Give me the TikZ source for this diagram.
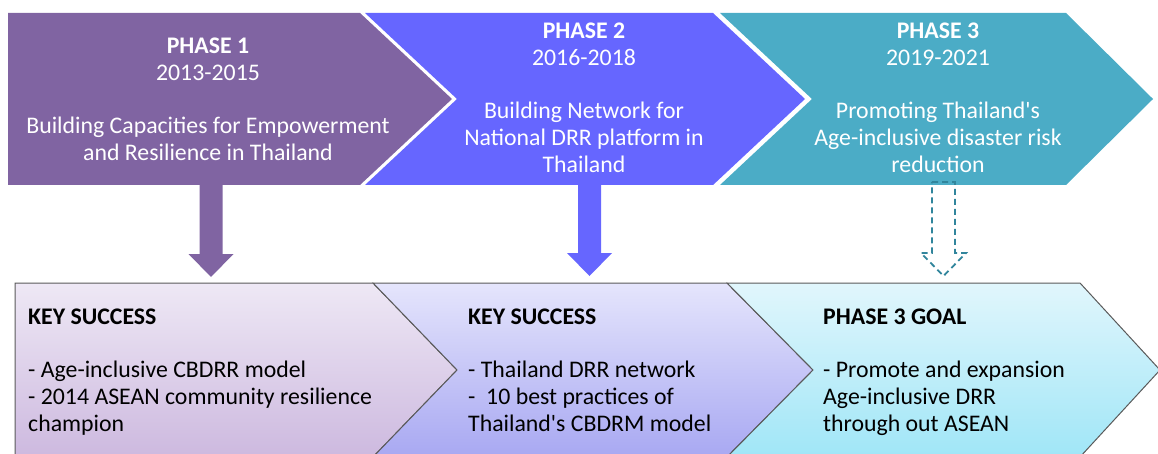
\documentclass[tikz,border=0pt]{standalone}
\usepackage{fontspec}
\setmainfont{Carlito}
\usetikzlibrary{calc}

\definecolor{phaseone}{HTML}{8064A2}
\definecolor{phasetwo}{HTML}{6666FF}
\definecolor{phasethree}{HTML}{4BACC6}
\definecolor{goalline}{HTML}{31859C}
\definecolor{keyline}{HTML}{5A5A5A}
\definecolor{keyonetop}{HTML}{EEE8F5}
\definecolor{keyonebot}{HTML}{CDB9DF}
\definecolor{keytwotop}{HTML}{E5E5FC}
\definecolor{keytwobot}{HTML}{A8A8F2}
\definecolor{keythreetop}{HTML}{E1F6FC}
\definecolor{keythreebot}{HTML}{A0E6F7}

% down arrow body: #1 = start (bottom of phase), #2 = tip
\newcommand{\downarrowpath}[2]{
  ($(#1)+(-11.5,0)$) -- ($(#1)+(11.5,0)$) -- ($(#2)+(11.5,-23)$) --
  ($(#2)+(22.5,-23)$) -- (#2) -- ($(#2)+(-22.5,-23)$) --
  ($(#2)+(-11.5,-23)$) -- cycle
}

\begin{document}
\begin{tikzpicture}[x=1pt, y=-1pt, font=\fontsize{23.8}{27}\selectfont,
    phasetext/.style={text=white, align=center, inner sep=0pt},
    keytext/.style={align=left, anchor=north west, inner sep=0pt},
    keybox/.style={draw=keyline, line width=1pt}]
    \useasboundingbox (0,0) rectangle (1158,454);
    \clip (0,0) rectangle (1158,454);

    % phases
    \fill[phaseone] (8,13) -- (360,13) -- (452,99) -- (360,185) -- (8,185) -- cycle;
    \fill[phasetwo] (365,13) -- (713,13) -- (805,99) -- (713,185) -- (365,185)
      -- (457,99) -- cycle;
    \fill[phasethree] (720,13) -- (1066,13) -- (1153,99) -- (1066,185) -- (720,185)
      -- (812,99) -- cycle;

    \node[phasetext] (p1) at (208,99) {
      \textbf{PHASE 1}\\2013-2015\\[26pt]
      Building Capacities for Empowerment\\and Resilience in Thailand
    };
    \node[phasetext] (p2) at (584,98) {
      \textbf{PHASE 2}\\2016-2018\\[26pt]
      Building Network for\\National DRR platform in\\Thailand
    };
    \node[phasetext] (p3) at (938,98) {
      \textbf{PHASE 3}\\2019-2021\\[26pt]
      Promoting Thailand\textquotesingle s\\Age-inclusive disaster risk\\reduction
    };

    % key success boxes
    \path[keybox, top color=keyonetop, bottom color=keyonebot]
      (15,283) -- (373,283) -- (457,370) -- (373,457) -- (15,457) -- cycle;
    \path[keybox, top color=keytwotop, bottom color=keytwobot]
      (373,283) -- (727,283) -- (813,370) -- (727,457) -- (373,457)
      -- (457,370) -- cycle;
    \path[keybox, top color=keythreetop, bottom color=keythreebot]
      (727,283) -- (1080,283) -- (1160,370) -- (1080,457) -- (727,457)
      -- (813,370) -- cycle;

    \node[keytext] (k1) at (28,309) {
      \textbf{KEY SUCCESS}\\[26pt]
      - Age-inclusive CBDRR model\\
      - 2014 ASEAN community resilience\\
      champion
    };
    \node[keytext] (k2) at (468,309) {
      \textbf{KEY SUCCESS}\\[26pt]
      - Thailand DRR network\\
      -~ 10 best practices of\\
      Thailand\textquotesingle s CBDRM model
    };
    \node[keytext] (k3) at (823,309) {
      \textbf{PHASE 3 GOAL}\\[26pt]
      - Promote and expansion\\
      Age-inclusive DRR\\
      through out ASEAN
    };

    % arrows phase -> result
    \coordinate (a1) at (211,185);
    \coordinate (b1) at (211,277);
    \coordinate (a2) at (589.5,185);
    \coordinate (b2) at (589.5,276);
    \coordinate (a3) at (943.5,182);
    \coordinate (b3) at (943.5,276);
    \fill[phaseone] \downarrowpath{a1}{b1};
    \fill[phasetwo] \downarrowpath{a2}{b2};
    \draw[goalline, line width=1.8pt, dash pattern=on 6pt off 4pt]
      \downarrowpath{a3}{b3};
\end{tikzpicture}
\end{document}
